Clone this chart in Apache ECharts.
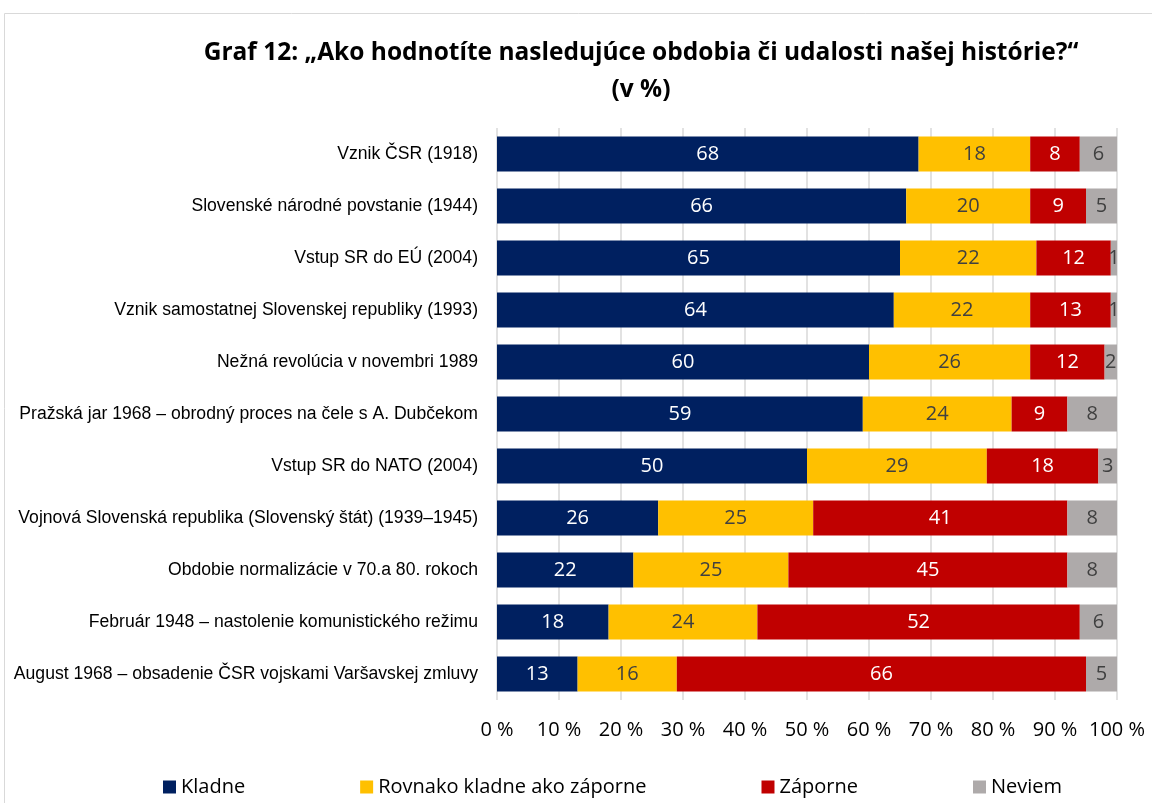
<!DOCTYPE html>
<html>
<head>
<meta charset="utf-8">
<script src="https://cdn.jsdelivr.net/npm/echarts@6/dist/echarts.min.js"></script>
<style>
  html,body{margin:0;padding:0;background:#fff;}
  #graf12{width:1152px;height:803px;}
</style>
</head>
<body>
<div id="graf12"></div>
<script>
// kategorie (zhora nadol)
var categories = [
  'Vznik ČSR (1918)',
  'Slovenské národné povstanie (1944)',
  'Vstup SR do EÚ (2004)',
  'Vznik samostatnej Slovenskej republiky (1993)',
  'Nežná revolúcia v novembri 1989',
  'Pražská jar 1968 – obrodný proces na čele s A. Dubčekom',
  'Vstup SR do NATO (2004)',
  'Vojnová Slovenská republika (Slovenský štát) (1939–1945)',
  'Obdobie normalizácie v 70.a 80. rokoch',
  'Február 1948 – nastolenie komunistického režimu',
  'August 1968 – obsadenie ČSR vojskami Varšavskej zmluvy'
]
var kladne    = [68, 66, 65, 64, 60, 59, 50, 26, 22, 18, 13]
var rovnako   = [18, 20, 22, 22, 26, 24, 29, 25, 25, 24, 16]
var zaporne   = [ 8,  9, 12, 13, 12,  9, 18, 41, 45, 52, 66]
var neviem    = [ 6,  5,  1,  1,  2,  8,  3,  8,  8,  6,  5]
var seriesNames = ['Kladne', 'Rovnako kladne ako záporne', 'Záporne', 'Neviem']
var xTicks = [0, 10, 20, 30, 40, 50, 60, 70, 80, 90, 100]

var chart = echarts.init(document.getElementById('graf12'))

function barSerie(name, data, color, labelColor){
  return {
    name: name,
    type: 'bar',
    stack: 'spolu',
    data: data,
    barWidth: 35,
    itemStyle: { color: color },
    label: {
      show: true,
      position: 'inside',
      color: labelColor,
      fontFamily: 'Open Sans',
      fontSize: 20
    }
  }
}

var option = {
  animation: false,
  title: {
    text: 'Graf 12: „Ako hodnotíte nasledujúce obdobia či udalosti našej histórie?“\n(v %)',
    left: 636,
    top: 30,
    textAlign: 'center',
    textStyle: {
      fontFamily: 'Open Sans',
      fontWeight: 'bold',
      fontSize: 24.5,
      lineHeight: 37,
      color: '#000'
    }
  },
  graphic: [{
    type: 'polyline',
    shape: { points: [[4.5, 803], [4.5, 13.5], [1152, 13.5]] },
    style: { stroke: '#d9d9d9', lineWidth: 1, fill: null }
  }],
  legend: {
    data: seriesNames,
    left: 158,
    top: 772,
    itemWidth: 13,
    itemHeight: 13,
    itemGap: 115,
    icon: 'rect',
    textStyle: { fontFamily: 'Open Sans', fontSize: 20, color: '#000' }
  },
  grid: {
    left: 497,
    width: 620,
    top: 128,
    height: 572
  },
  xAxis: {
    type: 'value',
    min: xTicks[0],
    max: xTicks[xTicks.length - 1],
    interval: 10,
    axisLine: { show: false },
    axisTick: { show: false },
    splitLine: { show: true, lineStyle: { color: '#d9d9d9', width: 1.5 } },
    axisLabel: {
      formatter: '{value} %',
      fontFamily: 'Open Sans',
      fontSize: 20,
      color: '#000',
      margin: 20
    }
  },
  yAxis: {
    type: 'category',
    inverse: true,
    data: categories,
    axisLine: { show: false },
    axisTick: { show: false },
    axisLabel: {
      fontFamily: 'Liberation Sans',
      fontSize: 17.6,
      color: '#000',
      margin: 19
    }
  },
  series: [
    barSerie(seriesNames[0], kladne, '#002060', '#fff'),
    barSerie(seriesNames[1], rovnako, '#ffc000', '#404040'),
    barSerie(seriesNames[2], zaporne, '#c00000', '#fff'),
    barSerie(seriesNames[3], neviem, '#aeaaaa', '#404040')
  ]
}

chart.setOption(option)
</script>
</body>
</html>
